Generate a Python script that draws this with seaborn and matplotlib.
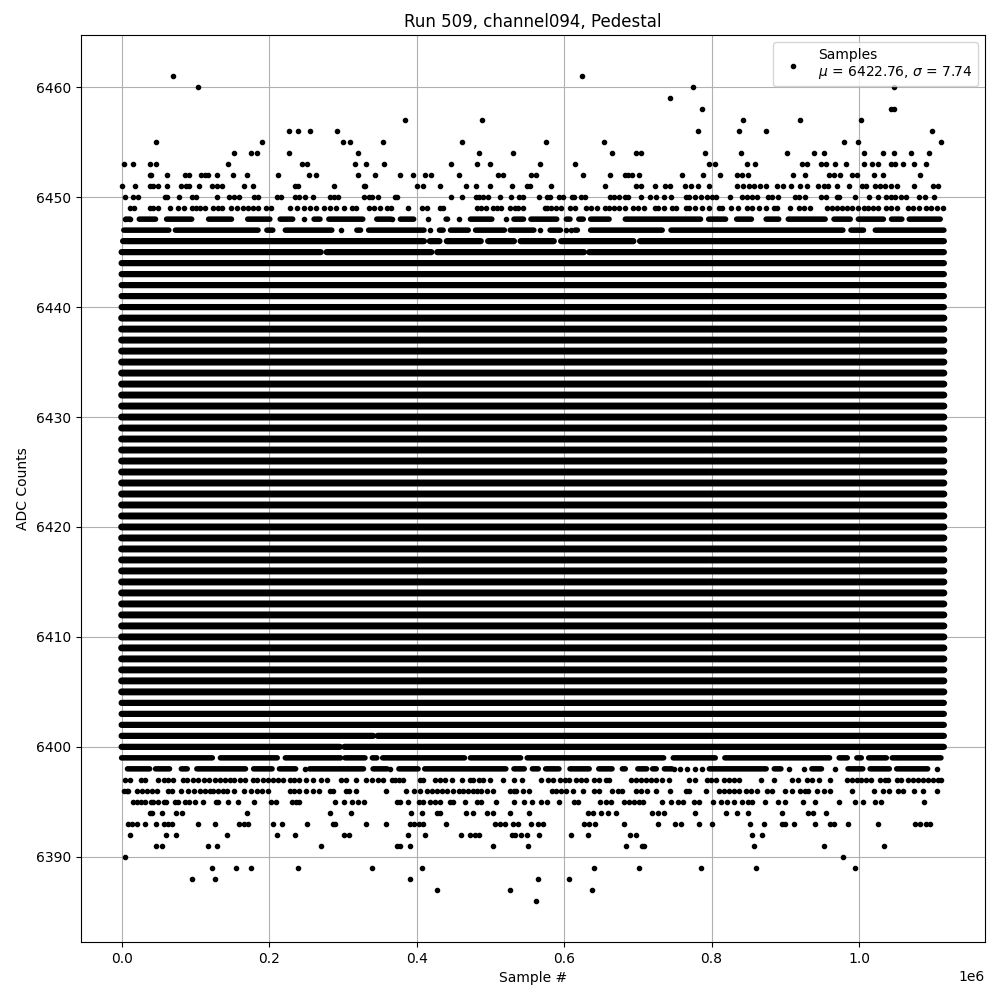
"""
Pedestal samples for run 509, channel094.
Sample numbers are read off the picture, in thousands of samples.
"""

import pandas as pd
import matplotlib
matplotlib.use("Agg")
import matplotlib.pyplot as plt
import seaborn as sns

TITLE = "Run 509, channel094, Pedestal"
X_LABEL = "Sample #"
Y_LABEL = "ADC Counts"
LEGEND_LABEL = "Samples\n$\\mu$ = 6422.76, $\\sigma$ = 7.74"

FIRST_SAMPLE = 0
LAST_SAMPLE = 1115

# ADC levels hit so often that the samples merge into one solid row
CORE_LEVELS = [6405, 6406, 6407, 6408, 6409, 6410, 6411, 6412, 6413, 6414,
               6415, 6416, 6417, 6418, 6419, 6420, 6421, 6422, 6423, 6424,
               6425, 6426, 6427, 6428, 6429, 6430, 6431, 6432, 6433, 6434,
               6435, 6436, 6437, 6438, 6439]
FRINGE_LEVELS = [6402, 6403, 6404, 6440, 6441, 6442, 6443, 6444]

# Levels that merge into runs with a few gaps: (first, last) sample of each run
RUNS_6448 = [(6, 11), (24, 46), (61, 95), (118, 149), (171, 201), (215, 232), (261, 269),
             (281, 327), (346, 365), (378, 396), (440, 442), (473, 502), (532, 545),
             (555, 590), (603, 608), (620, 626), (636, 661), (683, 785), (796, 819),
             (834, 854), (874, 891), (904, 954), (966, 988), (999, 1033), (1044, 1058),
             (1068, 1110)]
RUNS_6447 = [(3, 64), (73, 185), (197, 205), (222, 285), (319, 324), (335, 410),
             (431, 436), (446, 470), (480, 519), (527, 559), (581, 595),
             (615, 618), (636, 733), (745, 978), (989, 1006), (1022, 1115)]
RUNS_6446 = [(2, 410), (418, 431), (441, 487), (497, 532), (541, 586), (596, 694),
             (703, 1115)]
RUNS_6445 = [(0, 270), (278, 420), (428, 627), (634, 1115)]
RUNS_6401 = [(0, 341), (347, 1115)]
RUNS_6400 = [(0, 296), (302, 1115)]
RUNS_6399 = [(0, 123), (134, 211), (222, 297), (303, 330), (340, 346), (354, 465),
             (473, 541), (550, 735), (748, 805), (818, 960), (973, 984), (997, 1003),
             (1013, 1037), (1045, 1111)]
RUNS_6398 = [(8, 38), (46, 65), (81, 89), (102, 168), (179, 204), (214, 236),
             (255, 328), (341, 360), (376, 402), (411, 521), (532, 546), (557, 565),
             (575, 593), (608, 634), (647, 665), (679, 683), (700, 712), (720, 725),
             (736, 746), (797, 874), (885, 894), (936, 949), (985, 1005), (1015, 1041),
             (1051, 1093)]

# Levels where single samples can still be told apart
SAMPLES_6461 = [70, 624]
SAMPLES_6460 = [104, 775, 1048]
SAMPLES_6459 = [744]
SAMPLES_6458 = [787, 1043, 1047]
SAMPLES_6457 = [384, 489, 843, 920, 1002]
SAMPLES_6456 = [227, 239, 255, 292, 782, 837, 874, 1099]
SAMPLES_6455 = [46, 190, 300, 310, 355, 462, 575, 654, 980, 998, 1111]
SAMPLES_6454 = [153, 176, 184, 227, 320, 484, 531, 665, 697, 704, 791, 840, 902,
                939, 952, 1007, 1033, 1047, 1071, 1095]
SAMPLES_6453 = [3, 16, 38, 47, 144, 244, 251, 317, 331, 356, 447, 482, 500, 567, 615,
                797, 804, 848, 859, 922, 929, 949, 955, 967, 982, 1007, 1018, 1026,
                1043, 1049, 1060, 1075, 1091]
SAMPLES_6452 = [38, 40, 62, 86, 92, 107, 113, 117, 130, 151, 170, 212, 254, 263, 321,
                344, 377, 395, 411, 420, 457, 511, 517, 555, 562, 625, 662, 682, 687,
                692, 701, 760, 789, 811, 835, 841, 850, 910, 926, 959, 966, 974, 991,
                997, 1020, 1033, 1082]
SAMPLES_6451 = [1, 18, 38, 43, 49, 61, 81, 87, 92, 105, 122, 130, 136, 166, 178, 235,
                239, 288, 328, 330, 401, 409, 432, 467, 480, 500, 530, 550, 554, 582,
                655, 697, 704, 723, 737, 744, 764, 772, 781, 797, 834, 842, 851, 858,
                866, 874, 889, 897, 908, 920, 929, 944, 952, 958, 970, 987, 1004, 1009,
                1021, 1028, 1035, 1043, 1051, 1074, 1100, 1107]
SAMPLES_6450 = [4, 15, 22, 59, 62, 78, 95, 101, 130, 146, 152, 159, 180, 185, 211, 216,
                235, 241, 248, 259, 282, 288, 294, 329, 335, 340, 348, 371, 374, 446,
                461, 480, 484, 490, 497, 513, 528, 539, 544, 566, 577, 581, 593, 598,
                611, 614, 623, 628, 662, 668, 675, 682, 686, 704, 717, 725, 735, 745,
                765, 770, 778, 785, 794, 800, 806, 825, 841, 848, 855, 862, 877, 882,
                890, 913, 919, 927, 949, 955, 970, 973, 994, 1013, 1025, 1037, 1043,
                1049, 1057, 1063, 1081, 1089, 1102]
SAMPLES_6449 = [11, 17, 38, 43, 49, 65, 76, 85, 95, 101, 106, 113, 124, 131, 136, 149,
                156, 164, 171, 178, 185, 196, 202, 229, 238, 247, 255, 264, 275, 282,
                291, 301, 312, 318, 336, 342, 351, 360, 365, 388, 407, 414, 432, 436,
                482, 487, 494, 503, 509, 515, 527, 533, 538, 544, 574, 577, 582, 589,
                596, 608, 615, 630, 637, 644, 656, 661, 667, 674, 682, 693, 700, 709,
                723, 728, 736, 747, 752, 765, 770, 778, 787, 797, 810, 814, 827, 836,
                848, 855, 864, 874, 884, 889, 906, 918, 925, 933, 957, 963, 970, 977,
                983, 990, 999, 1006, 1012, 1019, 1026, 1037, 1043, 1051, 1067, 1073,
                1081, 1091, 1098, 1105, 1114]
SAMPLES_6448 = [247, 367, 416, 458, 521, 4, 12]
SAMPLES_6447 = [298, 418, 567, 602, 610]
SAMPLES_6398 = [248, 364, 749, 757, 767, 777, 787, 905, 925, 967, 1105]
SAMPLES_6397 = [5, 12, 26, 32, 50, 57, 63, 70, 83, 89, 97, 104, 112, 119, 126, 133, 140,
                147, 153, 160, 167, 178, 183, 192, 198, 205, 212, 219, 228, 234, 241,
                250, 259, 270, 279, 297, 304, 318, 332, 340, 348, 355, 367, 371, 376,
                382, 404, 409, 425, 432, 439, 448, 461, 472, 477, 484, 490, 500, 517,
                532, 543, 569, 578, 585, 594, 601, 607, 616, 623, 630, 641, 647, 657,
                661, 691, 697, 704, 711, 718, 724, 733, 742, 769, 778, 794, 799, 806,
                817, 823, 830, 837, 867, 885, 909, 917, 929, 936, 945, 960, 984, 990,
                997, 1003, 1010, 1016, 1028, 1035, 1039, 1051, 1057, 1066, 1073, 1080,
                1087, 1093, 1100, 1107, 1111]
SAMPLES_6396 = [3, 7, 9, 21, 27, 34, 41, 48, 63, 69, 81, 90, 98, 106, 113, 120, 124, 131,
                138, 143, 153, 166, 176, 183, 191, 198, 228, 234, 241, 250, 259, 268,
                282, 287, 304, 308, 318, 358, 385, 396, 405, 414, 421, 428, 434, 441,
                450, 457, 463, 470, 477, 482, 488, 496, 504, 526, 532, 535, 544, 552,
                583, 589, 596, 603, 612, 625, 641, 647, 665, 673, 679, 697, 704, 713,
                724, 744, 765, 769, 792, 810, 817, 823, 830, 837, 846, 853, 862, 875,
                882, 900, 909, 920, 927, 931, 943, 952, 960, 991, 1020, 1032, 1041,
                1053, 1060, 1075, 1087, 1106]
SAMPLES_6395 = [15, 21, 26, 32, 40, 43, 50, 57, 60, 72, 77, 86, 92, 100, 111, 128, 131,
                144, 158, 180, 203, 209, 231, 237, 241, 289, 301, 312, 320, 329, 374,
                377, 389, 403, 409, 418, 425, 432, 445, 450, 466, 482, 487, 508, 532,
                546, 556, 569, 577, 593, 613, 619, 649, 657, 664, 681, 688, 695, 701,
                707, 733, 745, 755, 761, 776, 783, 802, 813, 821, 831, 841, 850, 855,
                872, 890, 899, 924, 940, 973, 994, 1005, 1021, 1030, 1088]
SAMPLES_6394 = [38, 41, 55, 74, 82, 170, 282, 311, 392, 408, 428, 432, 467, 476, 496,
                504, 527, 553, 633, 639, 650, 659, 671, 719, 727, 736, 777, 820, 835,
                850, 895, 931, 937, 955]
SAMPLES_6393 = [8, 14, 21, 32, 47, 57, 63, 68, 104, 126, 159, 166, 172, 205, 217, 252,
                286, 290, 331, 359, 391, 397, 403, 409, 440, 506, 513, 520, 531, 537,
                555, 565, 572, 627, 634, 642, 681, 728, 750, 759, 783, 801, 852, 871,
                895, 899, 912, 940, 960, 966, 985, 1026, 1076, 1082, 1091, 1096]
SAMPLES_6392 = [11, 60, 74, 143, 211, 235, 302, 309, 389, 412, 460, 472, 479, 485, 529,
                533, 542, 550, 566, 609, 632, 690, 698, 855, 868]
SAMPLES_6391 = [46, 55, 117, 130, 271, 373, 377, 391, 504, 551, 684, 705, 709, 858, 953,
                1034]
SAMPLES_6390 = [5, 978]
SAMPLES_6389 = [122, 155, 176, 239, 340, 407, 640, 702, 785, 860, 994]
SAMPLES_6388 = [96, 127, 391, 565, 607]
SAMPLES_6387 = [428, 527, 638]
SAMPLES_6386 = [562]


def build_runs(run_levels: dict) -> pd.DataFrame:
    """Two rows per run, the first and the last sample of it."""
    rows = []
    run_id = 0
    for level, runs in run_levels.items():
        for first, last in runs:
            rows.append({"sample": first * 1000, "adc": level, "run": run_id})
            rows.append({"sample": last * 1000, "adc": level, "run": run_id})
            run_id += 1
    return pd.DataFrame(rows)


def build_samples() -> pd.DataFrame:
    """One row per sample that can be told apart."""
    levels = {6461: SAMPLES_6461, 6460: SAMPLES_6460, 6459: SAMPLES_6459, 6458: SAMPLES_6458,
              6457: SAMPLES_6457, 6456: SAMPLES_6456, 6455: SAMPLES_6455, 6454: SAMPLES_6454,
              6453: SAMPLES_6453, 6452: SAMPLES_6452, 6451: SAMPLES_6451, 6450: SAMPLES_6450,
              6449: SAMPLES_6449, 6448: SAMPLES_6448, 6447: SAMPLES_6447, 6398: SAMPLES_6398,
              6397: SAMPLES_6397, 6396: SAMPLES_6396, 6395: SAMPLES_6395, 6394: SAMPLES_6394,
              6393: SAMPLES_6393, 6392: SAMPLES_6392, 6391: SAMPLES_6391, 6390: SAMPLES_6390,
              6389: SAMPLES_6389, 6388: SAMPLES_6388, 6387: SAMPLES_6387, 6386: SAMPLES_6386}
    rows = [{"sample": s * 1000, "adc": level} for level, samples in levels.items() for s in samples]
    return pd.DataFrame(rows)


def draw_runs(ax, run_levels: dict, width: float) -> None:
    """Draw merged samples as round-ended rows."""
    sns.lineplot(data=build_runs(run_levels), x="sample", y="adc", units="run", estimator=None,
                 sort=False, color="black", linewidth=width, solid_capstyle="round",
                 snap=False, legend=False, ax=ax)


def main():
    fig, ax = plt.subplots(figsize=(10, 10))
    fig.subplots_adjust(left=0.0805, right=0.985, top=0.965, bottom=0.058)

    whole_row = [(FIRST_SAMPLE, LAST_SAMPLE)]
    draw_runs(ax, {level: whole_row for level in CORE_LEVELS}, 5)
    fringe = {level: whole_row for level in FRINGE_LEVELS}
    fringe.update({6446: RUNS_6446, 6445: RUNS_6445, 6401: RUNS_6401, 6400: RUNS_6400})
    draw_runs(ax, fringe, 4.5)
    draw_runs(ax, {6448: RUNS_6448, 6447: RUNS_6447, 6399: RUNS_6399, 6398: RUNS_6398}, 4)

    sns.scatterplot(data=build_samples(), x="sample", y="adc", color="black", marker=".",
                    s=36, linewidth=1, edgecolor="black", zorder=2, label=LEGEND_LABEL, ax=ax)

    ax.set_title(TITLE)
    ax.set_xlabel(X_LABEL)
    ax.set_ylabel(Y_LABEL)
    ax.legend(loc="upper right")
    ax.grid(True)

    fig.savefig("out.png", dpi=100)


if __name__ == "__main__":
    main()
